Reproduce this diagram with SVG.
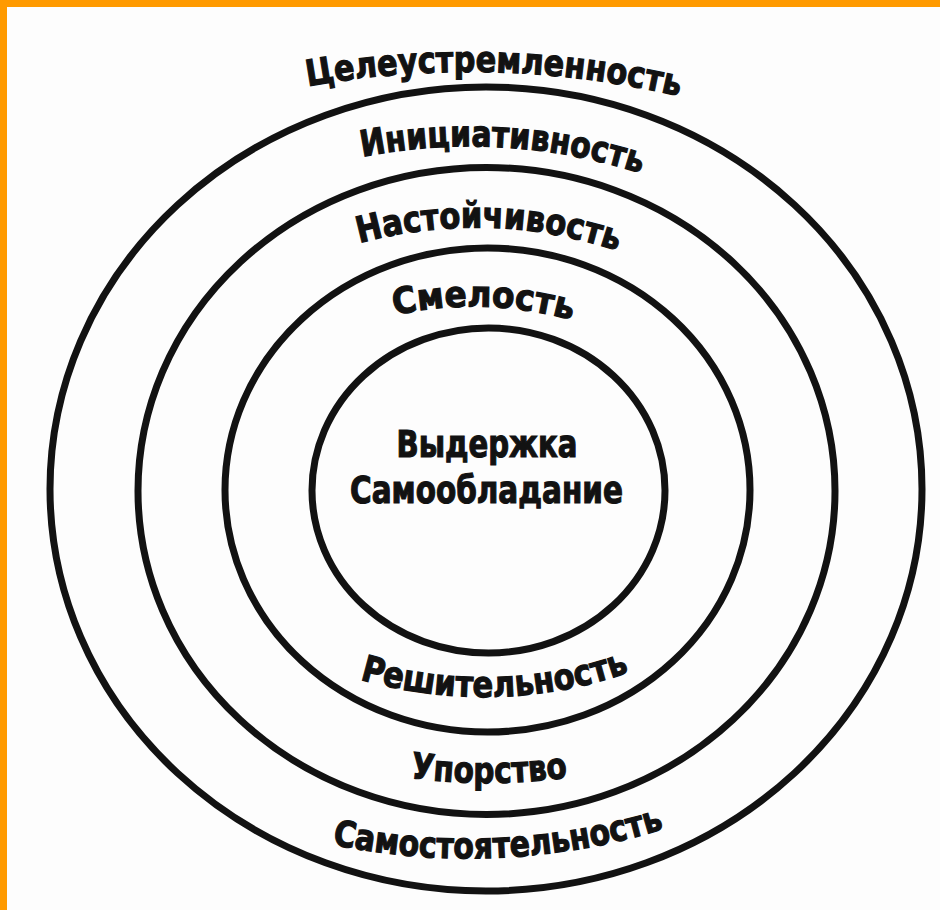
<svg xmlns="http://www.w3.org/2000/svg" xmlns:xlink="http://www.w3.org/1999/xlink" width="940" height="910" viewBox="0 0 940 910">
  <style>
    .ring { fill: none; stroke: #121212; stroke-width: 7; }
    .lbl { font-family: "DejaVu Sans", "Liberation Sans", sans-serif; font-weight: bold; fill: #121212; stroke: #121212; stroke-width: 1.2; font-size: 36px; }
    .ctr { font-family: "DejaVu Sans", "Liberation Sans", sans-serif; font-weight: bold; fill: #121212; stroke: #121212; stroke-width: 1.2; font-size: 37px; text-anchor: middle; }
  </style>
  <defs>
    <path id="p1" d="M 250.2 98.5 A 914 914 0 0 1 735.9 111.7"/>
    <path id="p2" d="M 305 171.2 A 558 558 0 0 1 695.8 194.3"/>
    <path id="p3" d="M 303.7 262.7 A 439.7 439.7 0 0 1 671.9 273.7"/>
    <path id="p4" d="M 346.2 329.2 A 367.8 367.8 0 0 1 619.3 336.9"/>
    <path id="p5" d="M 305.3 659.4 A 441.4 441.4 0 0 0 682.6 649.5"/>
    <path id="p6" d="M 360 768.9 A 578 578 0 0 0 617.9 768"/>
    <path id="p7" d="M 275.8 830.2 A 667.6 667.6 0 0 0 718.7 809.5"/>
  </defs>
  <rect x="0" y="0" width="940" height="910" fill="#fdfdfd"/>
  <rect x="0" y="0" width="940" height="7" fill="#ff9a00"/>
  <rect x="0" y="0" width="7" height="910" fill="#ff9a00"/>

  <g id="ring-outer">
    <ellipse class="ring" cx="486" cy="489" rx="436" ry="402"/>
    <text class="lbl"><textPath xlink:href="#p1" href="#p1" startOffset="50%" text-anchor="middle" textLength="374" lengthAdjust="spacingAndGlyphs">Целеустремленность</textPath></text>
    <text class="lbl"><textPath xlink:href="#p7" href="#p7" startOffset="50%" text-anchor="middle" textLength="336" lengthAdjust="spacingAndGlyphs">Самостоятельность</textPath></text>
  </g>
  <g id="ring-2">
    <ellipse class="ring" cx="486.5" cy="491" rx="348.5" ry="323.5"/>
    <text class="lbl"><textPath xlink:href="#p2" href="#p2" startOffset="50%" text-anchor="middle" textLength="282" lengthAdjust="spacingAndGlyphs">Инициативность</textPath></text>
    <text class="lbl"><textPath xlink:href="#p6" href="#p6" startOffset="50%" text-anchor="middle" textLength="158" lengthAdjust="spacingAndGlyphs">Упорство</textPath></text>
  </g>
  <g id="ring-3">
    <ellipse class="ring" cx="487.5" cy="490" rx="262.5" ry="242"/>
    <text class="lbl"><textPath xlink:href="#p3" href="#p3" startOffset="50%" text-anchor="middle" textLength="262" lengthAdjust="spacingAndGlyphs">Настойчивость</textPath></text>
    <text class="lbl"><textPath xlink:href="#p5" href="#p5" startOffset="50%" text-anchor="middle" textLength="274" lengthAdjust="spacingAndGlyphs">Решительность</textPath></text>
  </g>
  <g id="ring-inner">
    <ellipse class="ring" cx="488.5" cy="490.5" rx="176.5" ry="162.5"/>
    <text class="lbl"><textPath xlink:href="#p4" href="#p4" startOffset="50%" text-anchor="middle" textLength="179" lengthAdjust="spacingAndGlyphs">Смелость</textPath></text>
  </g>
  <g id="core">
    <text class="ctr" x="487" y="457" textLength="181" lengthAdjust="spacingAndGlyphs">Выдержка</text>
    <text class="ctr" x="486.5" y="503" textLength="273" lengthAdjust="spacingAndGlyphs">Самообладание</text>
  </g>
</svg>
